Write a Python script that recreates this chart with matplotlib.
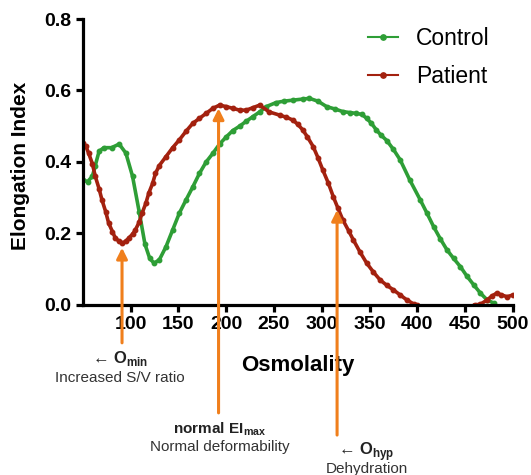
import numpy as np
import matplotlib
matplotlib.use("Agg")
import matplotlib.pyplot as plt

plt.rcParams['font.family'] = ['Liberation Sans', 'DejaVu Sans']
plt.rcParams['mathtext.fontset'] = 'custom'
plt.rcParams['mathtext.rm'] = 'Liberation Sans'
plt.rcParams['mathtext.bf'] = 'Liberation Sans:bold'

# values
control_x = [50, 55, 60, 63, 67, 72, 80, 88, 95, 102, 109, 115, 120, 124.5, 130, 137, 144, 151,
             158, 165, 172, 179, 186, 193, 200, 207, 214, 221, 228, 235, 242, 252, 260, 270,
             280, 287, 296, 305, 314, 322, 330, 336, 342, 347, 352, 357, 362, 368, 375, 382,
             392, 403, 410, 417, 424, 431, 438, 445, 452, 459, 466, 473, 480]
control_y = [0.35, 0.345, 0.36, 0.39, 0.43, 0.44, 0.44, 0.45, 0.425, 0.36, 0.26, 0.17, 0.13,
             0.117, 0.126, 0.163, 0.21, 0.257, 0.294, 0.33, 0.368, 0.40, 0.424, 0.45, 0.47,
             0.488, 0.50, 0.514, 0.527, 0.54, 0.555, 0.566, 0.57, 0.573, 0.576, 0.578, 0.57,
             0.555, 0.548, 0.541, 0.538, 0.536, 0.533, 0.522, 0.508, 0.49, 0.475, 0.46, 0.435,
             0.406, 0.35, 0.294, 0.257, 0.219, 0.185, 0.154, 0.13, 0.107, 0.08, 0.056, 0.033,
             0.014, 0.005]

patient_x = [50, 53, 56, 60, 63, 67, 70, 74, 77, 81, 84, 88, 91, 95, 98, 102, 105, 109, 112,
             116, 119, 123, 126, 130, 137, 144, 151, 158, 165, 172, 179, 186, 193, 200, 207,
             214, 221, 228, 235, 245, 256, 263, 270, 275, 280, 285, 291, 296, 301, 307, 312,
             317, 322, 328, 333, 340, 347, 354, 361, 368, 375, 382, 389, 396, 400,
             455, 460, 466, 473, 478, 483, 488, 494, 500]
patient_y = [0.452, 0.445, 0.425, 0.395, 0.36, 0.325, 0.294, 0.26, 0.229, 0.205, 0.187, 0.178,
             0.173, 0.178, 0.187, 0.198, 0.21, 0.232, 0.257, 0.285, 0.313, 0.34, 0.368, 0.39,
             0.415, 0.44, 0.462, 0.486, 0.508, 0.522, 0.536, 0.55, 0.559, 0.555, 0.55, 0.545,
             0.545, 0.552, 0.559, 0.54, 0.531, 0.525, 0.517, 0.505, 0.49, 0.47, 0.443, 0.412,
             0.378, 0.34, 0.303, 0.27, 0.238, 0.208, 0.182, 0.148, 0.117, 0.092, 0.07, 0.055,
             0.042, 0.028, 0.014, 0.003, 0.0,
             np.nan, 0.0, 0.002, 0.014, 0.025, 0.033, 0.028, 0.023, 0.028]

# arrows: (x, tip y, tail y)
arrow_x = [91, 192, 316]
arrow_tip = [0.16, 0.55, 0.266]
arrow_tail = [-0.106, -0.302, -0.364]

green = '#2E9E36'
red = '#A3210F'
orange = '#F07F1C'

fig = plt.figure(figsize=(5.31, 4.75), dpi=100)
ax = fig.add_axes([0.156, 0.358, 0.81, 0.602])

ax.plot(control_x, control_y, color=green, lw=2.6, marker='o', ms=3.2, label='Control')
ax.plot(patient_x, patient_y, color=red, lw=2.6, marker='o', ms=3.2, label='Patient')

ax.set_xlim(50, 500)
ax.set_ylim(0, 0.8)
ax.set_xticks(np.arange(100, 501, 50))
ax.set_yticks(np.arange(0, 0.81, 0.2))
ax.yaxis.set_major_formatter(matplotlib.ticker.FormatStrFormatter('%.1f'))
for s in ['top', 'right']:
    ax.spines[s].set_visible(False)
for s in ['left', 'bottom']:
    ax.spines[s].set_linewidth(2.3)
ax.tick_params(direction='out', length=5, width=2.3, labelsize=14, pad=3)
for lab in ax.get_xticklabels() + ax.get_yticklabels():
    lab.set_fontweight('bold')

ax.set_xlabel('Osmolality', fontsize=16, fontweight='bold')
ax.xaxis.set_label_coords(0.5, -0.213)
ax.xaxis.label.set_va('center')
ax.set_ylabel('Elongation Index', fontsize=15, fontweight='bold')
ax.yaxis.set_label_coords(-0.144, 0.486)
ax.yaxis.label.set_va('center')

ax.legend(loc='upper left', bbox_to_anchor=(0.615, 1.045), frameon=False, fontsize=16.5,
          handlelength=1.3, handletextpad=0.8, labelspacing=0.68, markerscale=1.2)
for h in ax.get_legend().get_lines():
    h.set_linewidth(1.5)

for xa, tip, tail in zip(arrow_x, arrow_tip, arrow_tail):
    ax.annotate('', xy=(xa, tip), xytext=(xa, tail), annotation_clip=False,
                arrowprops=dict(arrowstyle='-|>', color=orange, lw=2.2, mutation_scale=16,
                                shrinkA=0, shrinkB=0))

ax.text(88.8, -0.151, r'← $\mathbf{O}_{\mathbf{min}}$', fontsize=12, ha='center', va='center', color='#222222')
ax.text(88.8, -0.204, 'Increased S/V ratio', fontsize=11, ha='center', va='center', color='#333333')
ax.text(192.8, -0.347, r'$\mathbf{normal\ EI}_{\mathbf{max}}$', fontsize=11, ha='center', va='center', color='#222222')
ax.text(192.8, -0.397, 'Normal deformability', fontsize=11, ha='center', va='center', color='#333333')
ax.text(347, -0.411, r'← $\mathbf{O}_{\mathbf{hyp}}$', fontsize=12, ha='center', va='center', color='#222222')
ax.text(347, -0.459, 'Dehydration', fontsize=11, ha='center', va='center', color='#333333')

fig.savefig('out.png', dpi=100)
